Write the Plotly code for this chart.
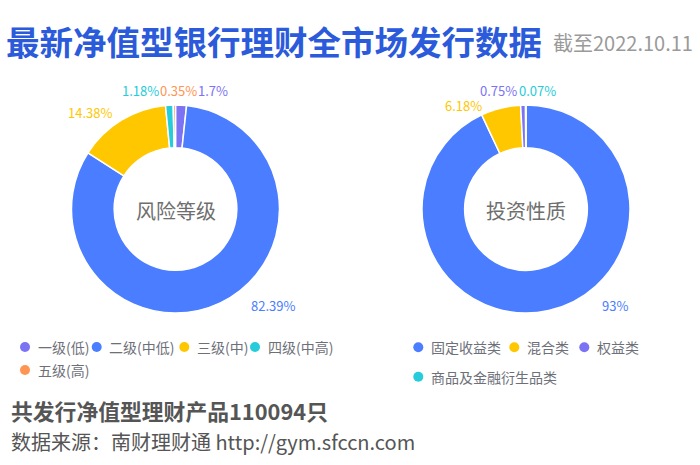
import plotly.graph_objects as go

W, H = 700, 465
FONT = "Noto Sans CJK SC"

# ---- data ----
risk_labels = ["一级(低)", "二级(中低)", "三级(中)", "四级(中高)", "五级(高)"]
risk_values = [1.7, 82.39, 14.38, 1.18, 0.35]
type_labels = ["固定收益类", "混合类", "权益类", "商品及金融衍生品类"]
type_values = [93, 6.18, 0.75, 0.07]
total_products = 110094
as_of = "2022.10.11"

# ---- styles ----
C_PURPLE, C_BLUE, C_YELLOW, C_CYAN, C_ORANGE = "#7B73F4", "#4A7DFF", "#FFC700", "#26CCDA", "#FF9553"
risk_colors = [C_PURPLE, C_BLUE, C_YELLOW, C_CYAN, C_ORANGE]
type_colors = [C_BLUE, C_YELLOW, C_PURPLE, C_CYAN]


def fx(x):
    return x / W


def fy(y):
    return 1 - y / H


R = 104
left_c = (175.5, 209)
right_c = (526, 209)


def dom(c):
    return dict(x=[fx(c[0] - R), fx(c[0] + R)], y=[fy(c[1] + R), fy(c[1] - R)])


fig = go.Figure()
for labels, values, colors, c, name in [
    (risk_labels, risk_values, risk_colors, left_c, "风险等级"),
    (type_labels, type_values, type_colors, right_c, "投资性质"),
]:
    fig.add_trace(go.Pie(
        labels=labels, values=values, hole=0.59, sort=False, direction="clockwise",
        rotation=0, textinfo="none", showlegend=False, name=name,
        marker=dict(colors=colors, line=dict(color="white", width=1.5)),
        domain=dom(c),
    ))

ann = []
shapes = []

# title
ann.append(dict(x=fx(4), y=fy(40), xanchor="left", yanchor="middle", showarrow=False,
                text="<b>最新净值型银行理财全市场发行数据</b>",
                font=dict(family=FONT, size=33.5, color="#2B5BDA")))
ann.append(dict(x=fx(551), y=fy(42), xanchor="left", yanchor="middle", showarrow=False,
                text="截至" + as_of, font=dict(family=FONT, size=20, color="#9A9A9A")))

# center texts
for c, t in [(left_c, "风险等级"), (right_c, "投资性质")]:
    ann.append(dict(x=fx(c[0]), y=fy(c[1] + 1), xanchor="center", yanchor="middle", showarrow=False,
                    text=t, font=dict(family=FONT, size=20, color="#6E6E6E")))

# percentage labels (text from data, placed as in reference)
risk_label_pos = [(213, 91), (273, 305), (90, 112), (140, 91), (178, 91)]
type_label_pos = [(615, 305), (464, 105), (498, 91), (537, 91)]
for values, colors, pos in [(risk_values, risk_colors, risk_label_pos), (type_values, type_colors, type_label_pos)]:
    for v, col, (px, py) in zip(values, colors, pos):
        ann.append(dict(x=fx(px), y=fy(py), xanchor="center", yanchor="middle", showarrow=False,
                        text=f"{v:g}%", font=dict(family=FONT, size=13, color=col)))

# legends
risk_leg_pos = [(25, 347), (96.7, 347), (184.3, 347), (255, 347), (25, 370)]
type_leg_pos = [(418.3, 347.3), (514.3, 347.3), (584.3, 347.3), (418.3, 376.7)]
for labels, colors, pos in [(risk_labels, risk_colors, risk_leg_pos), (type_labels, type_colors, type_leg_pos)]:
    for lab, col, (cx, cy) in zip(labels, colors, pos):
        shapes.append(dict(type="circle", xref="paper", yref="paper", xsizemode="pixel", ysizemode="pixel",
                           xanchor=fx(cx), yanchor=fy(cy), x0=-5, x1=5, y0=-5, y1=5,
                           fillcolor=col, line=dict(width=0)))
        ann.append(dict(x=fx(cx + 10.5), y=fy(cy), xanchor="left", yanchor="middle", showarrow=False,
                        text=lab, font=dict(family=FONT, size=14, color="#6E7079")))

# footer
ann.append(dict(x=fx(9), y=fy(410), xanchor="left", yanchor="middle", showarrow=False,
                text=f"<b>共发行净值型理财产品{total_products}只</b>",
                font=dict(family=FONT, size=21.8, color="#555555")))
ann.append(dict(x=fx(9), y=fy(441), xanchor="left", yanchor="middle", showarrow=False,
                text="数据来源：南财理财通 http://gym.sfccn.com",
                font=dict(family=FONT, size=20, color="#555555")))

fig.update_layout(
    width=W, height=H, margin=dict(l=0, r=0, t=0, b=0),
    paper_bgcolor="white", plot_bgcolor="white",
    annotations=ann, shapes=shapes, showlegend=False,
    font=dict(family=FONT),
)

fig.write_html("out.html", config={"displayModeBar": False},
               post_script="document.body.style.margin='0';document.body.style.overflow='hidden';")
